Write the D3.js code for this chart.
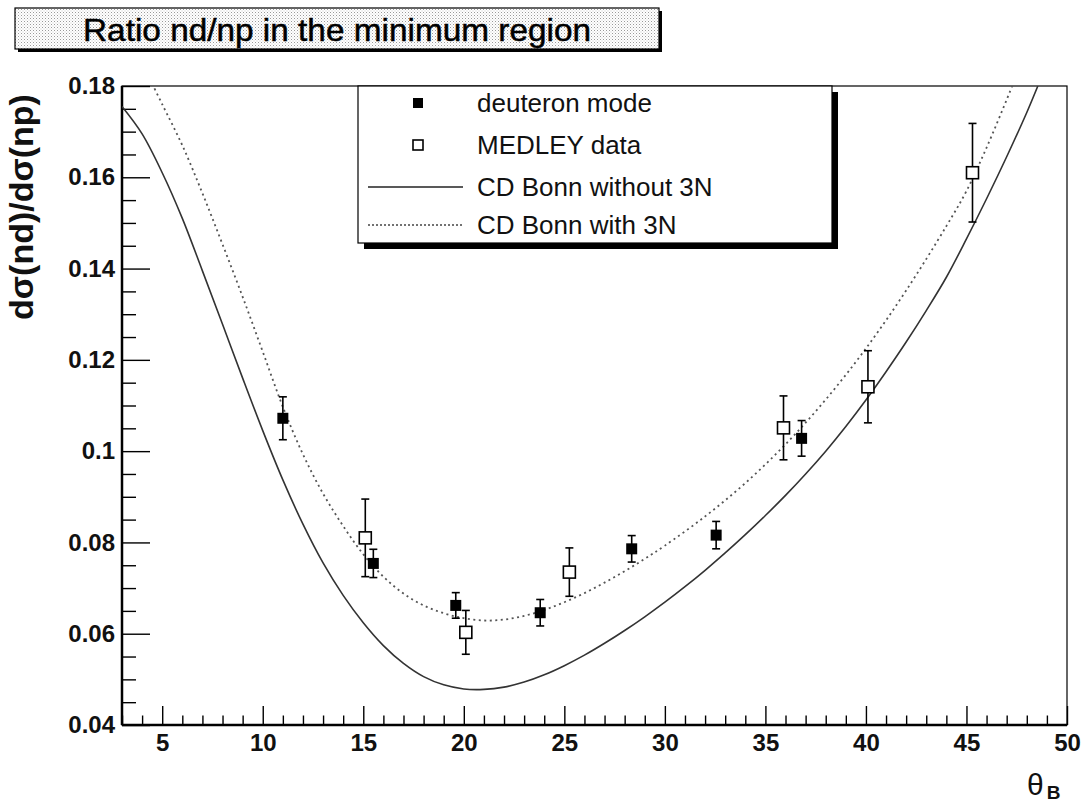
<!DOCTYPE html>
<html>
<head>
<meta charset="utf-8">
<script src="https://cdn.jsdelivr.net/npm/d3@7/dist/d3.min.js"></script>
<style>
  html, body { margin: 0; padding: 0; background: #fff; }
  svg { display: block; }
  text { font-family: "Liberation Sans", Arial, Helvetica, sans-serif; }
</style>
</head>
<body>
<svg id="chart" width="1088" height="806"></svg>
<script>
// ---------- data ----------
const titleText = "Ratio nd/np in the minimum region";
const yAxisTitle = "dσ(nd)/dσ(np)";
const legendLabels = ["deuteron mode", "MEDLEY data", "CD Bonn without 3N", "CD Bonn with 3N"];

const xTicks = [5, 10, 15, 20, 25, 30, 35, 40, 45, 50];
const xTickLabels = ["5", "10", "15", "20", "25", "30", "35", "40", "45", "50"];
const yTicks = [0.04, 0.06, 0.08, 0.10, 0.12, 0.14, 0.16, 0.18];
const yTickLabels = ["0.04", "0.06", "0.08", "0.1", "0.12", "0.14", "0.16", "0.18"];

const deuteronTheta = [11.0, 15.5, 19.6, 23.8, 28.35, 32.55, 36.8];
const deuteronRatio = [0.1072, 0.0754, 0.0662, 0.0646, 0.0786, 0.0816, 0.1028];
const deuteronErr   = [0.0047, 0.0031, 0.0028, 0.0029, 0.0029, 0.0030, 0.0039];

const medleyTheta = [15.1, 20.1, 25.25, 35.9, 40.1, 45.3];
const medleyRatio = [0.0810, 0.0603, 0.0735, 0.1051, 0.1141, 0.1610];
const medleyErr   = [0.0085, 0.0048, 0.0053, 0.0070, 0.0079, 0.0108];

const no3NTheta = [3, 4, 5, 6, 7, 8, 9, 10, 11, 12, 13, 14, 15, 16, 17, 18, 19, 20, 21, 22, 23, 24, 25, 26, 27, 28, 29, 30, 31, 32, 33, 34, 35, 36, 37, 38, 39, 40, 41, 42, 43, 44, 45, 46, 47, 48, 48.55];
const no3NRatio = [0.1755, 0.1695, 0.1610, 0.1510, 0.1395, 0.1278, 0.1160, 0.1045, 0.0937, 0.0840, 0.0755, 0.0684, 0.0624, 0.0574, 0.0535, 0.0506, 0.0488, 0.0479, 0.0478, 0.0483, 0.0494, 0.0510, 0.0530, 0.0553, 0.0579, 0.0607, 0.0637, 0.0669, 0.0703, 0.0739, 0.0777, 0.0817, 0.0859, 0.0903, 0.0950, 0.1000, 0.1054, 0.1112, 0.1174, 0.1239, 0.1308, 0.1381, 0.1465, 0.1553, 0.1645, 0.1742, 0.1800];

const with3NTheta = [4.5, 5, 6, 7, 8, 9, 10, 11, 12, 13, 14, 15, 16, 17, 18, 19, 20, 21, 22, 23, 24, 25, 26, 27, 28, 29, 30, 32, 34, 36, 38, 40, 42, 44, 45, 46, 47, 47.3];
const with3NRatio = [0.1805, 0.1760, 0.1670, 0.1565, 0.1453, 0.1338, 0.1218, 0.1097, 0.0993, 0.0907, 0.0836, 0.0774, 0.0725, 0.0688, 0.0662, 0.0645, 0.0634, 0.0629, 0.0631, 0.0639, 0.0652, 0.0669, 0.0689, 0.0712, 0.0737, 0.0764, 0.0793, 0.0857, 0.0930, 0.1015, 0.1113, 0.1225, 0.1352, 0.1493, 0.1570, 0.1665, 0.1770, 0.1803];

// ---------- layout ----------
const svg = d3.select("#chart");
const plot = { left: 122, right: 1067, top: 86, bottom: 725 };
const x = d3.scaleLinear().domain([3, 50]).range([plot.left, plot.right]);
const y = d3.scaleLinear().domain([0.04, 0.18]).range([plot.bottom, plot.top]);
const font = '"Liberation Sans", Arial, Helvetica, sans-serif';

const defs = svg.append("defs");
const pat = defs.append("pattern").attr("id", "stipple")
  .attr("width", 3).attr("height", 3).attr("patternUnits", "userSpaceOnUse");
pat.append("rect").attr("width", 3).attr("height", 3).attr("fill", "#ffffff");
pat.append("rect").attr("width", 1).attr("height", 1).attr("fill", "#9a9a9a");
pat.append("rect").attr("x", 1.5).attr("y", 1.5).attr("width", 1).attr("height", 1).attr("fill", "#c8c8c8");

defs.append("clipPath").attr("id", "plotclip").append("rect")
  .attr("x", plot.left).attr("y", plot.top)
  .attr("width", plot.right - plot.left).attr("height", plot.bottom - plot.top);

// ---------- title box ----------
const tb = { x: 15, y: 8, w: 644, h: 41 };
svg.append("rect").attr("x", tb.x + 3).attr("y", tb.y + 3).attr("width", tb.w).attr("height", tb.h).attr("fill", "#000");
svg.append("rect").attr("x", tb.x).attr("y", tb.y).attr("width", tb.w).attr("height", tb.h)
  .attr("fill", "url(#stipple)").attr("stroke", "#000").attr("stroke-width", 1.2);
svg.append("text").attr("x", tb.x + tb.w / 2).attr("y", 41)
  .attr("text-anchor", "middle").attr("font-size", 32).attr("fill", "#000")
  .attr("stroke", "#000").attr("stroke-width", 0.5)
  .attr("textLength", 508).attr("lengthAdjust", "spacingAndGlyphs")
  .text(titleText);

// ---------- axes ----------
const yMinor = d3.range(0.045, 0.18, 0.005).filter(v => Math.abs((v * 1000) % 20) > 1e-6 && Math.abs((v * 1000) % 20 - 20) > 1e-6);
const xMinor = d3.range(3, 50, 1).filter(v => v % 5 !== 0);

const yAxisMinor = svg.append("g").attr("transform", `translate(${plot.left},0)`)
  .call(d3.axisLeft(y).tickValues(yMinor).tickSize(-14).tickFormat(""));
const yAxis = svg.append("g").attr("transform", `translate(${plot.left},0)`)
  .call(d3.axisLeft(y).tickValues(yTicks).tickSize(-28).tickPadding(7)
    .tickFormat((d, i) => yTickLabels[i]));
const xAxisMinor = svg.append("g").attr("transform", `translate(0,${plot.bottom})`)
  .call(d3.axisBottom(x).tickValues(xMinor).tickSize(-9.5).tickFormat(""));
const xAxis = svg.append("g").attr("transform", `translate(0,${plot.bottom})`)
  .call(d3.axisBottom(x).tickValues(xTicks).tickSize(-19).tickPadding(9)
    .tickFormat((d, i) => xTickLabels[i]));

[yAxisMinor, yAxis, xAxisMinor, xAxis].forEach(g => {
  g.select(".domain").remove();
  g.selectAll(".tick line").attr("stroke", "#000").attr("stroke-width", 1.4);
});
[yAxis, xAxis].forEach(g => {
  g.selectAll(".tick text").attr("font-family", font).attr("font-size", 24)
    .attr("font-weight", "bold").attr("fill", "#111");
});

// frame
svg.append("rect").attr("x", plot.left).attr("y", plot.top)
  .attr("width", plot.right - plot.left).attr("height", plot.bottom - plot.top)
  .attr("fill", "none").attr("stroke", "#000").attr("stroke-width", 1.2);
svg.append("line").attr("x1", plot.left).attr("x2", plot.left).attr("y1", plot.top).attr("y2", plot.bottom)
  .attr("stroke", "#000").attr("stroke-width", 2.5);
svg.append("line").attr("x1", plot.left).attr("x2", plot.right).attr("y1", plot.bottom).attr("y2", plot.bottom)
  .attr("stroke", "#000").attr("stroke-width", 2.5);

// axis titles
svg.append("text").attr("transform", `translate(33,207) rotate(-90)`)
  .attr("text-anchor", "middle").attr("font-size", 34).attr("font-weight", "bold").attr("fill", "#111")
  .text(yAxisTitle);
const xt = svg.append("text").attr("x", 1027).attr("y", 795).attr("fill", "#111");
xt.append("tspan").attr("font-size", 30).text("θ");
xt.append("tspan").attr("font-size", 19).attr("font-weight", "bold").attr("dx", 3).attr("dy", 4).text("B");

// ---------- curves ----------
const line = d3.line().x(d => x(d[0])).y(d => y(d[1])).curve(d3.curveCatmullRom.alpha(0.5));
const curves = svg.append("g").attr("clip-path", "url(#plotclip)");
curves.append("path").datum(d3.zip(no3NTheta, no3NRatio)).attr("d", line)
  .attr("fill", "none").attr("stroke", "#333").attr("stroke-width", 1.6);
curves.append("path").datum(d3.zip(with3NTheta, with3NRatio)).attr("d", line)
  .attr("fill", "none").attr("stroke", "#555").attr("stroke-width", 1.8).attr("stroke-dasharray", "2,3.5");

// ---------- data points ----------
function errorBars(g, th, r, e) {
  const d = d3.zip(th, r, e);
  const cap = 4;
  g.selectAll(null).data(d).join("line")
    .attr("x1", p => x(p[0])).attr("x2", p => x(p[0]))
    .attr("y1", p => y(p[1] - p[2])).attr("y2", p => y(p[1] + p[2]))
    .attr("stroke", "#000").attr("stroke-width", 1.6);
  g.selectAll(null).data(d).join("line")
    .attr("x1", p => x(p[0]) - cap).attr("x2", p => x(p[0]) + cap)
    .attr("y1", p => y(p[1] + p[2])).attr("y2", p => y(p[1] + p[2]))
    .attr("stroke", "#000").attr("stroke-width", 1.6);
  g.selectAll(null).data(d).join("line")
    .attr("x1", p => x(p[0]) - cap).attr("x2", p => x(p[0]) + cap)
    .attr("y1", p => y(p[1] - p[2])).attr("y2", p => y(p[1] - p[2]))
    .attr("stroke", "#000").attr("stroke-width", 1.6);
}
const pts = svg.append("g");
errorBars(pts, medleyTheta, medleyRatio, medleyErr);
errorBars(pts, deuteronTheta, deuteronRatio, deuteronErr);
const ms = 12;
pts.selectAll(null).data(d3.zip(medleyTheta, medleyRatio)).join("rect")
  .attr("x", p => x(p[0]) - ms / 2).attr("y", p => y(p[1]) - ms / 2)
  .attr("width", ms).attr("height", ms)
  .attr("fill", "#fff").attr("stroke", "#000").attr("stroke-width", 1.6);
const fs = 11;
pts.selectAll(null).data(d3.zip(deuteronTheta, deuteronRatio)).join("rect")
  .attr("x", p => x(p[0]) - fs / 2).attr("y", p => y(p[1]) - fs / 2)
  .attr("width", fs).attr("height", fs).attr("fill", "#000");

// ---------- legend ----------
const lg = { x: 358, y: 86, w: 474, h: 157 };
svg.append("rect").attr("x", lg.x + 6).attr("y", lg.y + 6).attr("width", lg.w).attr("height", lg.h).attr("fill", "#000");
svg.append("rect").attr("x", lg.x).attr("y", lg.y).attr("width", lg.w).attr("height", lg.h)
  .attr("fill", "#fff").attr("stroke", "#000").attr("stroke-width", 1.2);
const rowY = [103, 145, 187, 225];
const lgText = svg.append("g");
legendLabels.forEach((lab, i) => {
  lgText.append("text").attr("x", 477).attr("y", rowY[i]).attr("dy", "0.36em")
    .attr("font-size", 26).attr("fill", "#111").text(lab);
});
svg.append("rect").attr("x", 418 - 5).attr("y", rowY[0] - 5).attr("width", 10).attr("height", 10).attr("fill", "#000");
svg.append("rect").attr("x", 418 - 5).attr("y", rowY[1] - 5).attr("width", 10).attr("height", 10)
  .attr("fill", "#fff").attr("stroke", "#000").attr("stroke-width", 1.6);
svg.append("line").attr("x1", 368).attr("x2", 463).attr("y1", rowY[2]).attr("y2", rowY[2])
  .attr("stroke", "#222").attr("stroke-width", 1.6);
svg.append("line").attr("x1", 368).attr("x2", 463).attr("y1", rowY[3]).attr("y2", rowY[3])
  .attr("stroke", "#444").attr("stroke-width", 1.6).attr("stroke-dasharray", "2,2");
</script>
</body>
</html>
